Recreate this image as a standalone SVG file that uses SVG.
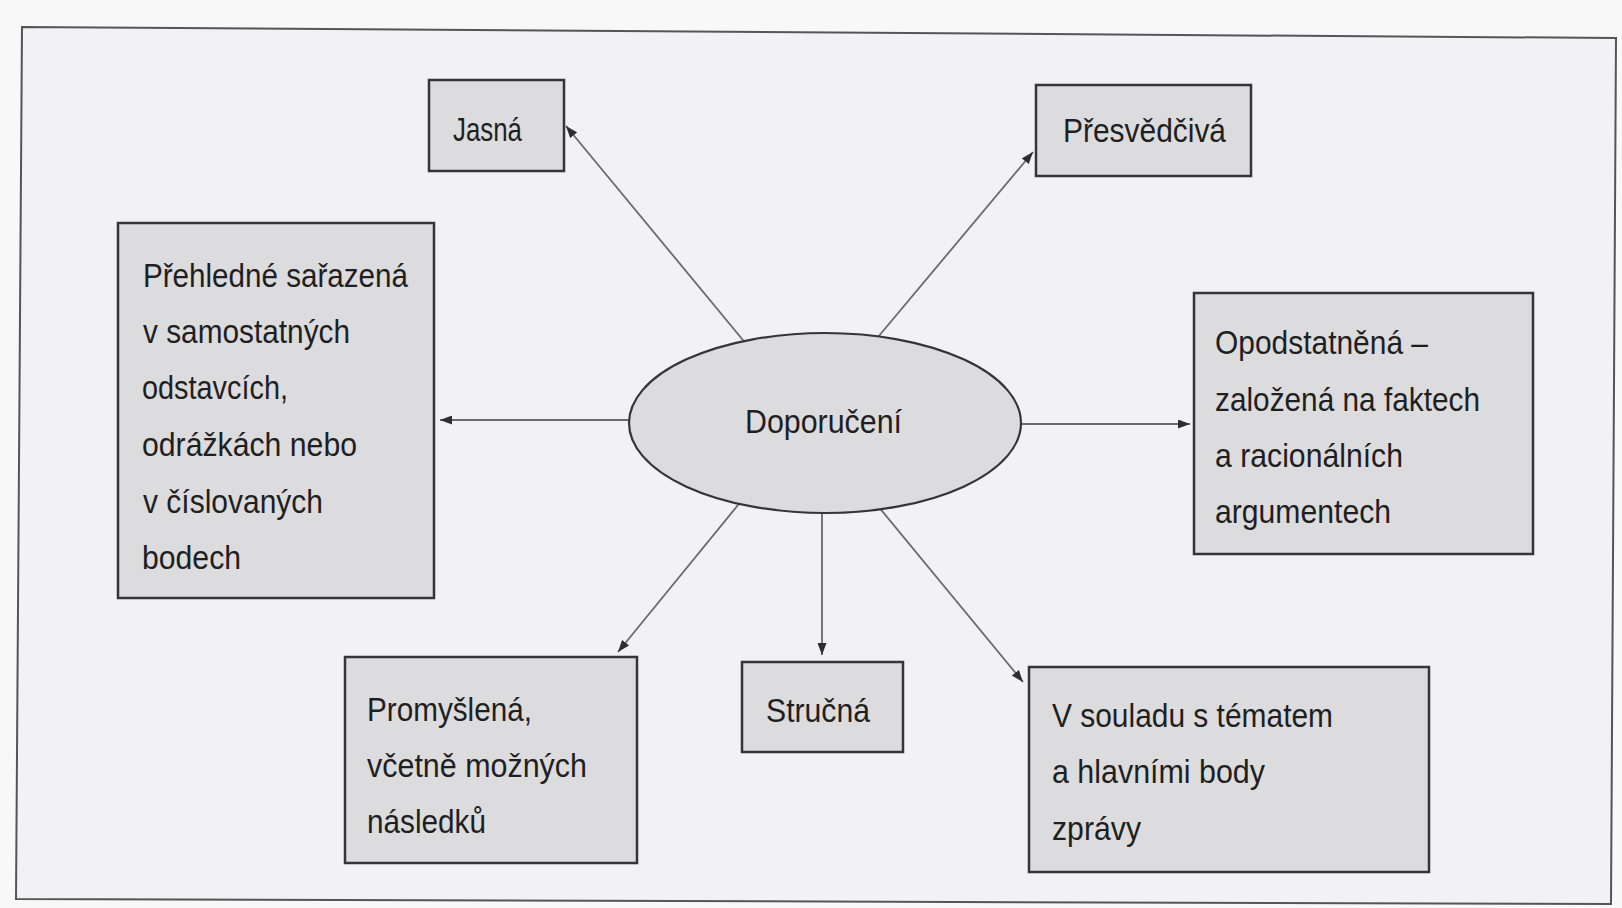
<svg xmlns="http://www.w3.org/2000/svg" width="1622" height="908" viewBox="0 0 1622 908">
<style>
.t{font-family:"Liberation Sans",Arial,sans-serif;font-size:34px;fill:#1f1f1f}
.box{fill:#dcdbde;stroke:#353535;stroke-width:2.5}
.con{stroke:#6a6a6a;stroke-width:1.8;fill:none;marker-end:url(#ah)}
</style>
<defs>
<marker id="ah" viewBox="0 0 12 9" refX="12" refY="4.5" markerWidth="12" markerHeight="9" markerUnits="userSpaceOnUse" orient="auto">
<path d="M0,0 L12,4.5 L0,9 z" fill="#2e2e2e"/>
</marker>
</defs>
<rect x="0" y="0" width="1622" height="908" fill="#f8f8f9"/>
<polygon points="22,27 1616,38 1611,904 16,899" fill="#f2f1f4" stroke="#555" stroke-width="2"/>
<g id="connectors">
<path class="con" d="M752,351 L566,126"/>
<path class="con" d="M873,343 L1033,152"/>
<path class="con" d="M640,420 L440,420"/>
<path class="con" d="M1010,424 L1190,424"/>
<path class="con" d="M747,494 L618,652"/>
<path class="con" d="M822,500 L822,655"/>
<path class="con" d="M873,500 L1023,682"/>
</g>
<g id="center">
<ellipse cx="825" cy="423" rx="196" ry="90" fill="#dcdbde" stroke="#353535" stroke-width="2.2"/>
<text class="t" x="745" y="433" textLength="157" lengthAdjust="spacingAndGlyphs">Doporučení</text>
</g>
<g id="jasna">
<rect class="box" x="429" y="80" width="135" height="91"/>
<text class="t" x="453" y="141" textLength="69" lengthAdjust="spacingAndGlyphs">Jasná</text>
</g>
<g id="presvedciva">
<rect class="box" x="1036" y="85" width="215" height="91"/>
<text class="t" x="1063" y="142" textLength="163" lengthAdjust="spacingAndGlyphs">Přesvědčivá</text>
</g>
<g id="prehledne">
<rect class="box" x="118" y="223" width="316" height="375"/>
<text class="t" x="143" y="287" textLength="265" lengthAdjust="spacingAndGlyphs">Přehledné sařazená</text>
<text class="t" x="143" y="343" textLength="207" lengthAdjust="spacingAndGlyphs">v samostatných</text>
<text class="t" x="142" y="399" textLength="146" lengthAdjust="spacingAndGlyphs">odstavcích,</text>
<text class="t" x="142" y="456" textLength="215" lengthAdjust="spacingAndGlyphs">odrážkách nebo</text>
<text class="t" x="143" y="513" textLength="180" lengthAdjust="spacingAndGlyphs">v číslovaných</text>
<text class="t" x="142" y="569" textLength="99" lengthAdjust="spacingAndGlyphs">bodech</text>
</g>
<g id="opodstatnena">
<rect class="box" x="1194" y="293" width="339" height="261"/>
<text class="t" x="1215" y="354" textLength="213" lengthAdjust="spacingAndGlyphs">Opodstatněná –</text>
<text class="t" x="1215" y="411" textLength="265" lengthAdjust="spacingAndGlyphs">založená na faktech</text>
<text class="t" x="1215" y="467" textLength="188" lengthAdjust="spacingAndGlyphs">a racionálních</text>
<text class="t" x="1215" y="523" textLength="176" lengthAdjust="spacingAndGlyphs">argumentech</text>
</g>
<g id="promyslena">
<rect class="box" x="345" y="657" width="292" height="206"/>
<text class="t" x="367" y="721" textLength="165" lengthAdjust="spacingAndGlyphs">Promyšlená,</text>
<text class="t" x="367" y="777" textLength="220" lengthAdjust="spacingAndGlyphs">včetně možných</text>
<text class="t" x="367" y="833" textLength="119" lengthAdjust="spacingAndGlyphs">následků</text>
</g>
<g id="strucna">
<rect class="box" x="742" y="662" width="161" height="90"/>
<text class="t" x="766" y="722" textLength="104" lengthAdjust="spacingAndGlyphs">Stručná</text>
</g>
<g id="vsouladu">
<rect class="box" x="1029" y="667" width="400" height="205"/>
<text class="t" x="1052" y="727" textLength="281" lengthAdjust="spacingAndGlyphs">V souladu s tématem</text>
<text class="t" x="1052" y="783" textLength="213" lengthAdjust="spacingAndGlyphs">a hlavními body</text>
<text class="t" x="1052" y="840" textLength="89" lengthAdjust="spacingAndGlyphs">zprávy</text>
</g>
</svg>
